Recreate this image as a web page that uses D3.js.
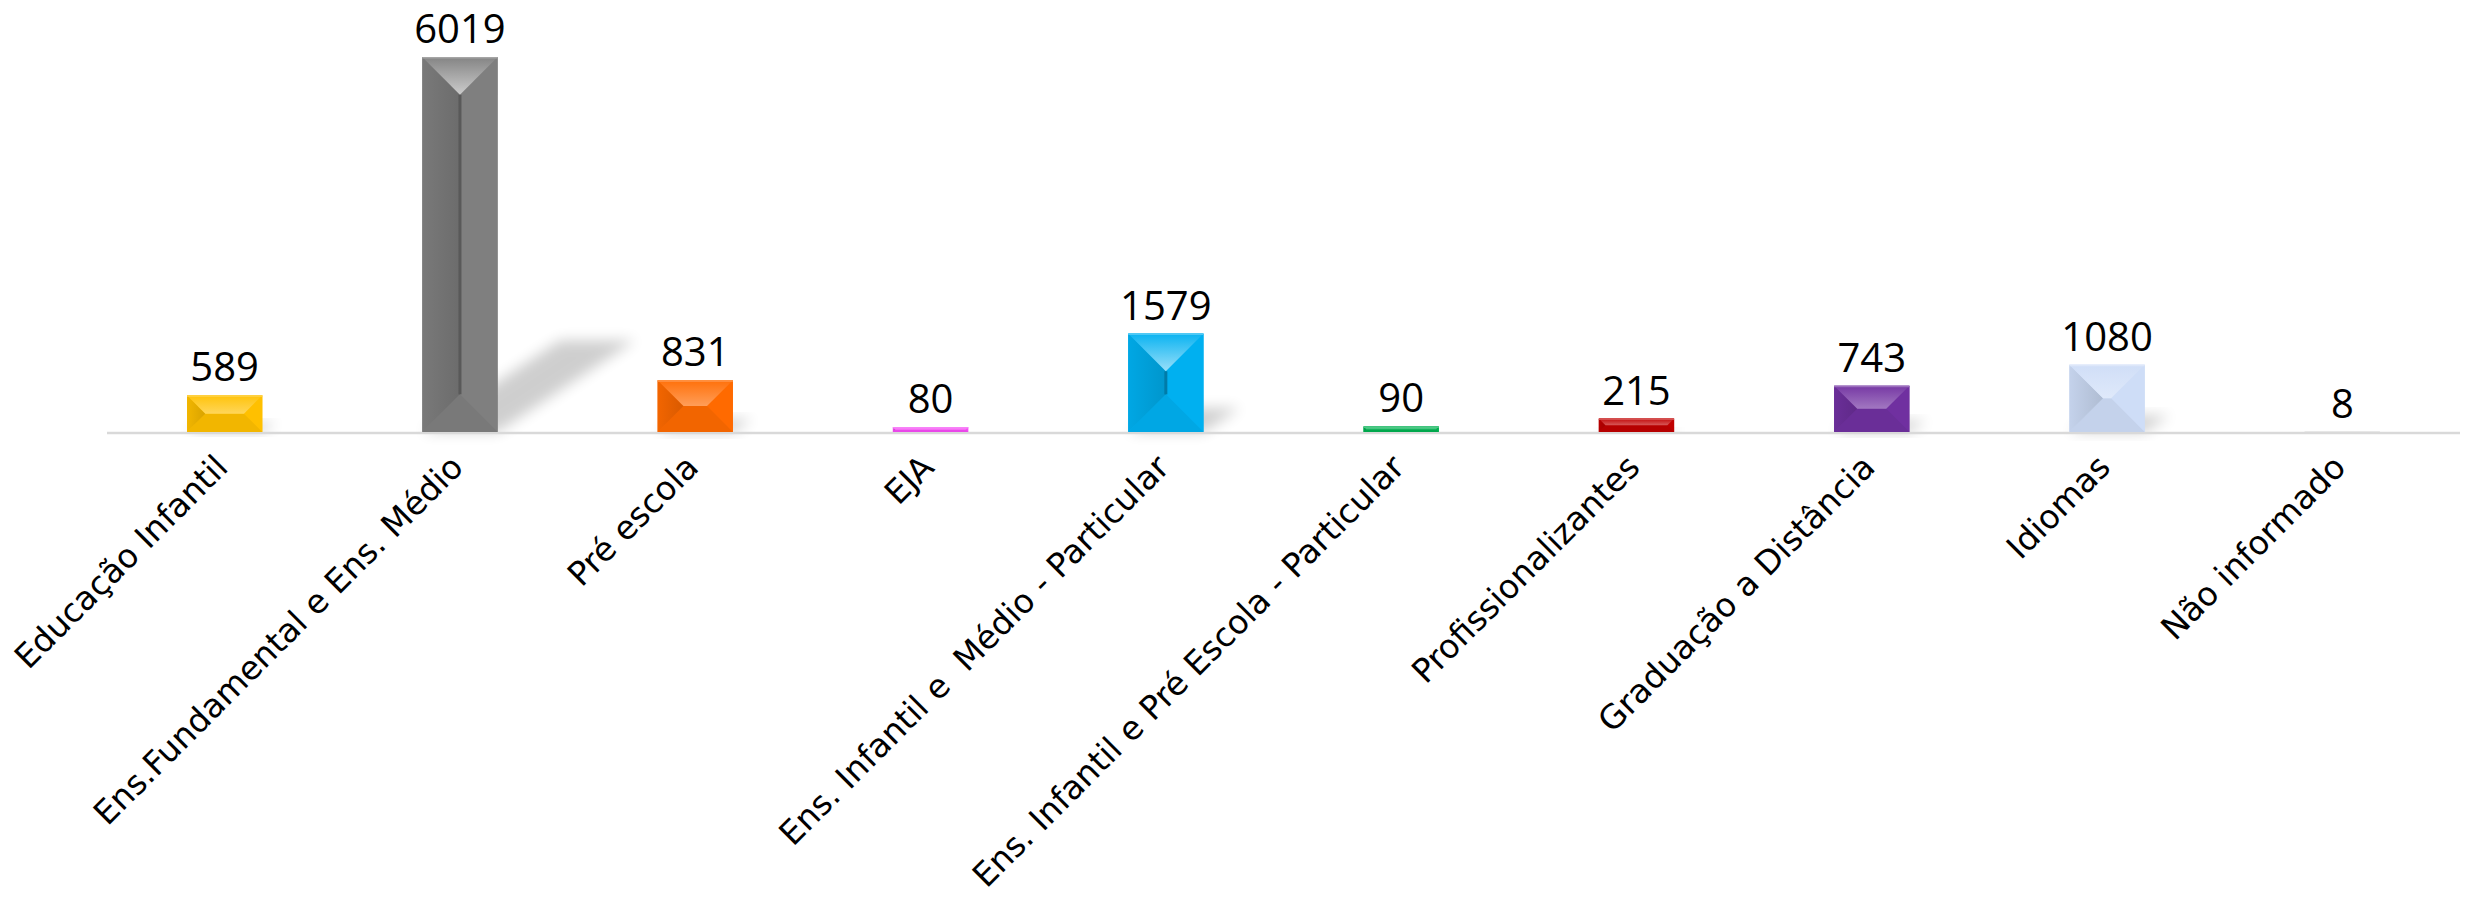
<!DOCTYPE html>
<html>
<head>
<meta charset="utf-8">
<script src="https://cdn.jsdelivr.net/npm/d3@7"></script>
<style>
  html, body { margin: 0; padding: 0; background: #fff; }
  svg { display: block; }
</style>
</head>
<body>
<div id="chart"></div>
<script>
// ---- data ----
const categories = [
  "Educação Infantil",
  "Ens.Fundamental e Ens. Médio",
  "Pré escola",
  "EJA",
  "Ens. Infantil e  Médio - Particular",
  "Ens. Infantil e Pré Escola - Particular",
  "Profissionalizantes",
  "Graduação a Distância",
  "Idiomas",
  "Não informado"
];
const values = [589, 6019, 831, 80, 1579, 90, 215, 743, 1080, 8];
const barColors = ["#FFC000", "#7F7F7F", "#FF6A00", "#F54CF5", "#00B0F0", "#00B050", "#C00000", "#7030A0", "#CEDDF7", "#E4E4E4"];

// ---- layout ----
const W = 2465, H = 901;
const axisY = 432;
const x = d3.scaleBand().domain(categories).range([107, 2460]).paddingInner(0.68).paddingOuter(0.34);
const y = d3.scaleLinear().domain([0, 6019]).range([axisY, 57]);

const svg = d3.select("#chart").append("svg").attr("width", W).attr("height", H);
const defs = svg.append("defs");
const blur = defs.append("filter").attr("id", "blur").attr("x", "-50%").attr("y", "-50%").attr("width", "200%").attr("height", "200%");
blur.append("feGaussianBlur").attr("stdDeviation", 7);

const data = categories.map((c, i) => ({ c, v: values[i], color: barColors[i], i }));

// shadows
svg.append("g").selectAll("path").data(data.filter(d => d.v > 100)).join("path")
  .attr("d", d => {
    const xl = x(d.c), xr = xl + x.bandwidth(), h = axisY - y(d.v);
    const k = 0.245 * h, s = 1.5 * k;
    return `M${xl},${axisY}L${xr},${axisY}L${xr + s},${axisY - k}L${xl + s},${axisY - k}Z`;
  })
  .attr("fill", "#000").attr("opacity", 0.19).attr("filter", "url(#blur)");

// axis line
svg.append("line").attr("x1", 107).attr("x2", 2460).attr("y1", axisY + 1).attr("y2", axisY + 1)
  .attr("stroke", "#D9D9D9").attr("stroke-width", 2.5);

const mix = (a, b, t) => d3.interpolateRgb(a, b)(t);
const poly = pts => "M" + pts.map(p => p.join(",")).join("L") + "Z";

// bars
const bars = svg.append("g");
data.forEach(d => {
  const xl = x(d.c), w = x.bandwidth(), xr = xl + w;
  const top = y(d.v), bot = axisY, h = bot - top;
  const dd = Math.min(w, h) / 2;
  const base = d.color;
  const vertical = h >= w;
  const gTop = defs.append("linearGradient").attr("id", "gt" + d.i)
    .attr("gradientUnits", "userSpaceOnUse").attr("x1", 0).attr("y1", top).attr("x2", 0).attr("y2", top + dd);
  gTop.append("stop").attr("offset", 0).attr("stop-color", mix(base, "#fff", 0.04));
  gTop.append("stop").attr("offset", 1).attr("stop-color", mix(base, "#fff", vertical ? 0.6 : 0.35));
  const gLeft = defs.append("linearGradient").attr("id", "gl" + d.i)
    .attr("gradientUnits", "userSpaceOnUse").attr("x1", xl).attr("y1", 0).attr("x2", xl + dd).attr("y2", 0);
  gLeft.append("stop").attr("offset", 0).attr("stop-color", mix(base, "#000", 0.05));
  gLeft.append("stop").attr("offset", 1).attr("stop-color", mix(base, "#000", 0.15));

  const g = bars.append("g");
  const cx = xl + w / 2;
  const TL = [xl, top], TR = [xr, top], BL = [xl, bot], BR = [xr, bot];
  let r1, r2, topF, botF, leftF, rightF;
  if (vertical) {
    r1 = [cx, top + dd]; r2 = [cx, bot - dd];
    topF = [TL, TR, r1]; botF = [BL, BR, r2];
    leftF = [TL, r1, r2, BL]; rightF = [TR, r1, r2, BR];
  } else {
    r1 = [xl + dd, top + dd]; r2 = [xr - dd, top + dd];
    topF = [TL, TR, r2, r1]; botF = [BL, BR, r2, r1];
    leftF = [TL, r1, BL]; rightF = [TR, r2, BR];
  }
  g.append("rect").attr("x", xl).attr("y", top).attr("width", w).attr("height", h).attr("fill", base);
  g.append("path").attr("d", poly(rightF)).attr("fill", base);
  g.append("path").attr("d", poly(botF)).attr("fill", mix(base, "#000", 0.05));
  g.append("path").attr("d", poly(leftF)).attr("fill", `url(#gl${d.i})`);
  g.append("path").attr("d", poly(topF)).attr("fill", `url(#gt${d.i})`);
  if (vertical && h - w > 2) {
    g.append("line").attr("x1", cx).attr("x2", cx).attr("y1", r1[1]).attr("y2", r2[1])
      .attr("stroke", mix(base, "#000", 0.3)).attr("stroke-width", 3);
  }
  if (h > 2) {
    g.append("line").attr("x1", xl).attr("x2", xr).attr("y1", top + 0.75).attr("y2", top + 0.75)
      .attr("stroke", mix(base, "#fff", 0.3)).attr("stroke-width", 1.5);
  }
});

// value labels
svg.append("g").selectAll("text").data(data).join("text")
  .attr("x", d => x(d.c) + x.bandwidth() / 2)
  .attr("y", d => y(d.v) - 14)
  .attr("text-anchor", "middle")
  .attr("font-family", "'Open Sans', sans-serif")
  .attr("font-size", 40)
  .attr("fill", "#000")
  .text(d => d.v);

// category labels
svg.append("g").selectAll("text").data(data).join("text")
  .attr("transform", d => `translate(${x(d.c) + x.bandwidth() / 2 - 3},${axisY + 29}) rotate(-45)`)
  .attr("text-anchor", "end")
  .attr("dy", "0.35em")
  .attr("font-family", "'DejaVu Sans'")
  .attr("font-size", 33)
  .attr("fill", "#000")
  .style("white-space", "pre")
  .text(d => d.c);
</script>
</body>
</html>
